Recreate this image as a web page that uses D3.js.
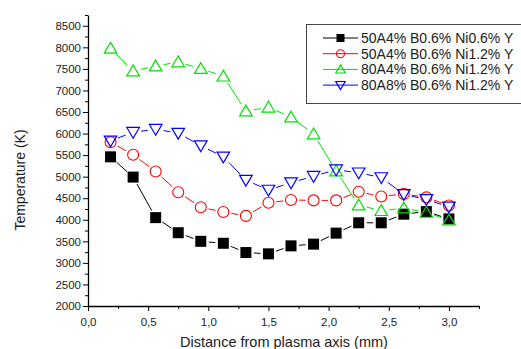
<!DOCTYPE html>
<html>
<head>
<meta charset="utf-8">
<script src="https://cdn.jsdelivr.net/npm/d3@7"></script>
<style>
  body { margin: 0; background: #fff; }
  svg { display: block; font-family: "Liberation Sans", Arial, sans-serif; }
</style>
</head>
<body>
<svg id="chart" width="521" height="349"></svg>
<script>
// distance from plasma axis (mm)
const distances = [0.1875, 0.375, 0.5625, 0.75, 0.9375, 1.125, 1.3125, 1.5,
  1.6875, 1.875, 2.0625, 2.25, 2.4375, 2.625, 2.8125, 3.0];

const seriesNames = [
  "50A4% B0.6% Ni0.6% Y",
  "50A4% B0.6% Ni1.2% Y",
  "80A4% B0.6% Ni1.2% Y",
  "80A8% B0.6% Ni1.2% Y"
];

// temperature (K)
const tBlack = [5460, 4990, 4050, 3700, 3500, 3455, 3240, 3210, 3395, 3435, 3690, 3930, 3930, 4130, 4190, 4020];
const tRed   = [5800, 5510, 5120, 4640, 4290, 4180, 4090, 4395, 4460, 4450, 4450, 4650, 4540, 4600, 4520, 4330];
const tGreen = [7975, 7450, 7565, 7660, 7505, 7330, 6520, 6610, 6380, 5990, 5130, 4340, 4210, 4270, 4170, 3990];
const tBlue  = [5830, 6030, 6100, 6010, 5720, 5460, 4920, 4690, 4860, 5010, 5160, 5090, 4980, 4590, 4470, 4300];

const xTicks = [0, 0.5, 1.0, 1.5, 2.0, 2.5, 3.0];
const yTicks = d3.range(2000, 8501, 500);

const series = [
  { name: seriesNames[0], values: tBlack, color: "#000000", symbol: "square" },
  { name: seriesNames[1], values: tRed,   color: "#ff0000", symbol: "circle" },
  { name: seriesNames[2], values: tGreen, color: "#00e000", symbol: "up" },
  { name: seriesNames[3], values: tBlue,  color: "#0000ff", symbol: "down" }
];

const svg = d3.select("#chart");
const plotLeft = 88, plotRight = 479, plotTop = 15, plotBottom = 306;

const x = d3.scaleLinear().domain([0, 3.25]).range([plotLeft, plotRight]);
const y = d3.scaleLinear().domain([2000, 8750]).range([plotBottom, plotTop]);

// axes
const xAxis = d3.axisBottom(x).tickValues(xTicks).tickSize(5).tickSizeOuter(0)
  .tickFormat(d => d3.format(".1f")(d).replace(".", ","));
const gx = svg.append("g").attr("transform", `translate(0,${plotBottom})`).call(xAxis);
gx.select(".domain").attr("stroke-width", 1.3);
gx.selectAll(".tick text").attr("font-size", 11.5).attr("fill", "#222").attr("dy", "1.05em");

const xMinor = d3.axisBottom(x).tickValues(d3.range(0.25, 3.3, 0.5)).tickSize(3).tickFormat("");
svg.append("g").attr("transform", `translate(0,${plotBottom})`).call(xMinor).select(".domain").remove();

const yAxis = d3.axisLeft(y).tickValues(yTicks).tickSize(5).tickSizeOuter(0).tickFormat(d3.format("d"));
const gy = svg.append("g").attr("transform", `translate(${plotLeft},0)`).call(yAxis);
gy.select(".domain").attr("stroke-width", 1.3);
gy.selectAll(".tick text").attr("font-size", 11.5).attr("fill", "#222").attr("x", -7);

const yMinor = d3.axisLeft(y).tickValues(d3.range(2250, 8751, 500)).tickSize(3).tickFormat("");
svg.append("g").attr("transform", `translate(${plotLeft},0)`).call(yMinor).select(".domain").remove();

// axis labels
svg.append("text")
  .attr("x", 284).attr("y", 347)
  .attr("text-anchor", "middle").attr("font-size", 14.5).attr("fill", "#222")
  .text("Distance from plasma axis (mm)");
svg.append("text")
  .attr("transform", "translate(25,180) rotate(-90)")
  .attr("text-anchor", "middle").attr("font-size", 14).attr("fill", "#222")
  .text("Temperature (K)");

// markers
const R = 6;
function drawMarker(g, s, cx, cy, r) {
  if (s.symbol === "square") {
    g.append("rect").attr("x", cx - r + 0.5).attr("y", cy - r + 0.5)
      .attr("width", 2 * r - 1).attr("height", 2 * r - 1).attr("fill", s.color);
  } else if (s.symbol === "circle") {
    g.append("circle").attr("cx", cx).attr("cy", cy).attr("r", r - 0.5)
      .attr("fill", "none").attr("stroke", s.color).attr("stroke-width", 1.1);
  } else {
    const d = s.symbol === "up" ? 1 : -1;
    const pts = [[cx, cy - d * r], [cx - r * 1.05, cy + d * r * 0.8], [cx + r * 1.05, cy + d * r * 0.8]];
    g.append("path").attr("d", "M" + pts.join("L") + "Z")
      .attr("fill", "none").attr("stroke", s.color).attr("stroke-width", 1.2);
  }
}

series.forEach(s => {
  const g = svg.append("g");
  const pts = s.values.map((v, i) => [x(distances[i]), y(v)]);
  // line segments with a gap around each marker
  for (let i = 0; i < pts.length - 1; i++) {
    const [x1, y1] = pts[i], [x2, y2] = pts[i + 1];
    const len = Math.hypot(x2 - x1, y2 - y1);
    const gap = R + 2;
    if (len <= 2 * gap) continue;
    const ux = (x2 - x1) / len, uy = (y2 - y1) / len;
    g.append("line")
      .attr("x1", x1 + ux * gap).attr("y1", y1 + uy * gap)
      .attr("x2", x2 - ux * gap).attr("y2", y2 - uy * gap)
      .attr("stroke", s.color).attr("stroke-width", 1);
  }
  pts.forEach(p => drawMarker(g, s, p[0], p[1], R));
});

// legend
const lg = svg.append("g");
lg.append("rect").attr("x", 306.5).attr("y", 24.5).attr("width", 220).attr("height", 79)
  .attr("fill", "#fff").attr("stroke", "#444").attr("stroke-width", 1);
series.forEach((s, i) => {
  const cy = 38 + i * 15.7;
  lg.append("line").attr("x1", 323).attr("x2", 358).attr("y1", cy).attr("y2", cy)
    .attr("stroke", s.color).attr("stroke-width", 1);
  drawMarker(lg, s, 340.5, cy, 4.5);
  lg.append("text").attr("x", 361).attr("y", cy + 5)
    .attr("font-size", 14).attr("fill", "#222").text(s.name);
});
</script>
</body>
</html>
